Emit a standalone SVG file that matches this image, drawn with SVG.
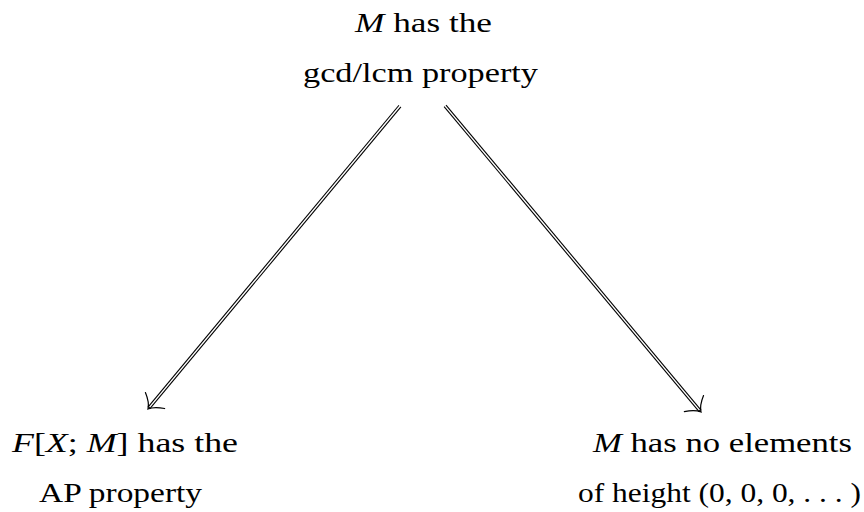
<svg xmlns="http://www.w3.org/2000/svg" width="864" height="512" viewBox="0 0 864 512">
<style>
text{font-family:"Liberation Serif","Times New Roman",serif;font-size:27px;fill:#000}
.i{font-style:italic}
.outer{stroke:#000;stroke-width:3.6;fill:none}
.inner{stroke:#fff;stroke-width:1.4;fill:none}
.tip{stroke:#000;stroke-width:1.2;fill:none;stroke-linecap:round}
</style>
<rect width="864" height="512" fill="#fff"/>
<g id="top">
<text x="355" y="32" textLength="137" lengthAdjust="spacingAndGlyphs"><tspan class="i">M</tspan> has the</text>
<text x="303" y="82" textLength="235" lengthAdjust="spacingAndGlyphs">gcd/lcm property</text>
</g>
<g id="left">
<text x="12" y="452" textLength="226" lengthAdjust="spacingAndGlyphs"><tspan class="i">F</tspan>[<tspan class="i">X</tspan>; <tspan class="i">M</tspan>] has the</text>
<text x="39" y="502" textLength="163" lengthAdjust="spacingAndGlyphs">AP property</text>
</g>
<g id="right">
<text x="593" y="452" textLength="259" lengthAdjust="spacingAndGlyphs"><tspan class="i">M</tspan> has no elements</text>
<text x="578" y="502" textLength="283" lengthAdjust="spacingAndGlyphs">of height (0, 0, 0, . . . )</text>
</g>
<g id="connectors">
<g transform="translate(148,409) rotate(129.75)">
<line class="outer" x1="-394" y1="0" x2="-1.5" y2="0"/>
<line class="inner" x1="-395" y1="0" x2="-2.5" y2="0"/>
<path class="tip" d="M-11,-12.5 C-7,-5 -3,-1.5 0,0 C-3,1.5 -7,5 -11,12.5"/>
</g>
<g transform="translate(701,412) rotate(50.1)">
<line class="outer" x1="-399" y1="0" x2="-1.5" y2="0"/>
<line class="inner" x1="-400" y1="0" x2="-2.5" y2="0"/>
<path class="tip" d="M-11,-12.5 C-7,-5 -3,-1.5 0,0 C-3,1.5 -7,5 -11,12.5"/>
</g>
</g>
</svg>
